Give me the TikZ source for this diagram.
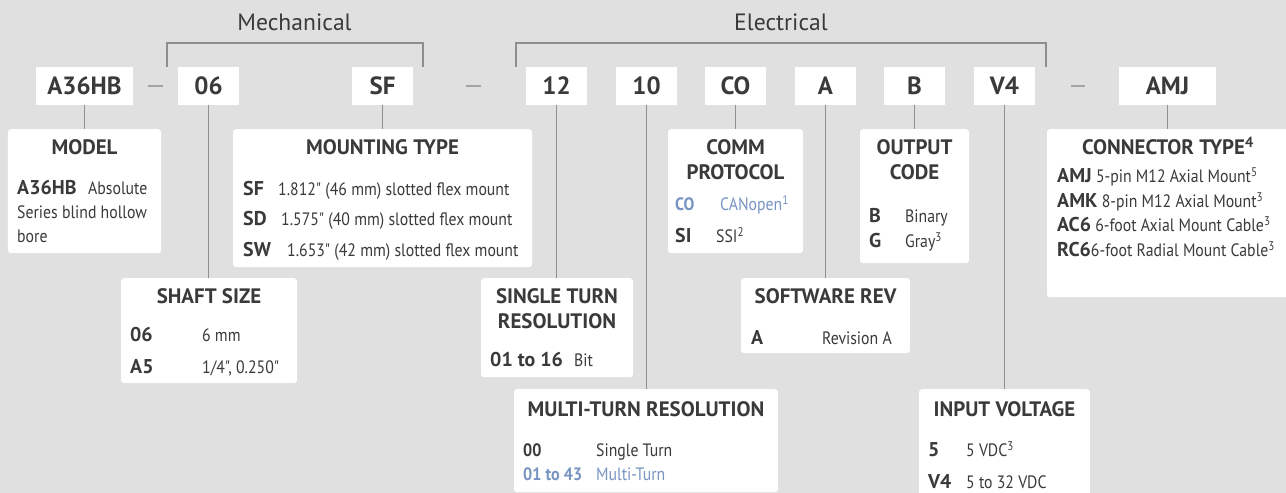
\documentclass[tikz,border=0pt]{standalone}
\usepackage{fontspec}
\setmainfont{PT Sans}
\newfontfamily\narrowfont{PT Sans}[FakeStretch=0.88]
\newfontfamily\boldfont{PT Sans}
\newfontfamily\boldnarrow{PT Sans}[FakeStretch=0.9]
\usepackage{xcolor}
\usepackage{tikz}
\usetikzlibrary{positioning}

\definecolor{bggray}{HTML}{DFE0DF}
\definecolor{txtgray}{HTML}{3A3A3A}
\definecolor{linegray}{HTML}{8E8E8E}
\definecolor{dashgray}{HTML}{A3A3A3}
\definecolor{optblue}{HTML}{7894C3}

\newcommand{\keytxt}[1]{{\boldfont\bfseries\fontsize{20}{24}\selectfont #1}}

\tikzset{
  codebox/.style={fill=white, minimum width=61bp, minimum height=38bp, inner sep=0pt,
    text=txtgray, font=\boldfont\bfseries\fontsize{25}{28}\selectfont},
  infobox/.style={fill=white, rounded corners=3bp, anchor=north, inner sep=0pt},
  boxtitle/.style={anchor=base, inner sep=0pt, text=txtgray,
    font=\boldfont\bfseries\fontsize{21}{25}\selectfont},
  key/.style={anchor=base west, inner sep=0pt, text=txtgray,
    font=\boldfont\bfseries\fontsize{20}{24}\selectfont},
  smallkey/.style={key, font=\boldnarrow\bfseries\fontsize{18}{24}\selectfont},
  val/.style={anchor=base west, inner sep=0pt, text=txtgray,
    font=\narrowfont\fontsize{18}{24}\selectfont},
  link/.style={draw=linegray, line width=1.8bp},
  bracket/.style={draw=linegray, line width=2bp},
  sepdash/.style={draw=dashgray, line width=1.5bp},
  group/.style={anchor=base, inner sep=0pt, text=txtgray, font=\fontsize{23.7}{28}\selectfont}
}

\begin{document}
\begin{tikzpicture}[x=1bp, y=-1bp]
  \fill[bggray] (0,0) rectangle (1286,493);
  \useasboundingbox (0,0) rectangle (1286,493);

  % groups
  \node[group] (mech) at (294.5,31) {Mechanical};
  \node[group] (elec) at (781,31) {Electrical};
  \draw[bracket] (167,67) |- (423,43) -- (423,67);
  \draw[bracket] (516,67) |- (1046,43) -- (1046,67);

  % part number
  \foreach \nm/\x/\w/\txt in {cModel/84.5/97/A36HB, cShaft/208.5/61/06, cMount/382.5/61/SF,
      cSingle/556.5/61/12, cMulti/646.5/61/10, cComm/735.5/61/CO, cSoft/825.5/61/A,
      cOut/914.5/61/B, cVolt/1004.5/61/V4, cConn/1167.5/97/AMJ} {
    \node[codebox, minimum width=\w bp] (\nm) at (\x,86) {\txt};
  }
  \draw[sepdash] (148,86) -- (163,86);
  \draw[sepdash] (466,86) -- (481,86);
  \draw[sepdash] (1071,86) -- (1085,86);

  % option boxes
  \node[infobox, minimum width=153bp, minimum height=124bp] (model) at (84.5,129) {};
  \node[infobox, minimum width=299bp, minimum height=138bp] (mount) at (382.5,129) {};
  \node[infobox, minimum width=135bp, minimum height=124bp] (comm) at (735.5,129) {};
  \node[infobox, minimum width=109bp, minimum height=134bp] (output) at (914.5,129) {};
  \node[infobox, minimum width=242bp, minimum height=168bp] (conn) at (1168,129) {};
  \node[infobox, minimum width=176bp, minimum height=105bp] (shaft) at (209,278) {};
  \node[infobox, minimum width=152bp, minimum height=99bp] (single) at (557,278) {};
  \node[infobox, minimum width=169bp, minimum height=75bp] (softw) at (825.5,278) {};
  \node[infobox, minimum width=264bp, minimum height=103bp] (multi) at (646,389) {};
  \node[infobox, minimum width=171bp, minimum height=111bp] (volt) at (1004.5,389) {};

  \foreach \a/\b in {cModel/model, cShaft/shaft, cMount/mount, cSingle/single, cMulti/multi,
      cComm/comm, cSoft/softw, cOut/output, cVolt/volt, cConn/conn} {
    \draw[link] (\a.south) -- (\a.south |- \b.north);
  }

  % titles
  \node[boxtitle] (tModel) at (84.5,155) {MODEL};
  \node[boxtitle] (tMount) at (382.5,155) {MOUNTING TYPE};
  \node[boxtitle] (tComm) at (735.5,155) {COMM};
  \node[boxtitle] (tComm2) at (735.5,180) {PROTOCOL};
  \node[boxtitle] (tOut) at (914.5,155) {OUTPUT};
  \node[boxtitle] (tOut2) at (914.5,180) {CODE};
  \node[boxtitle] (tConn) at (1168,155) {CONNECTOR TYPE\textsuperscript{4}};
  \node[boxtitle] (tShaft) at (209,303.6) {SHAFT SIZE};
  \node[boxtitle] (tSingle) at (557,303.6) {SINGLE TURN};
  \node[boxtitle] (tSingle2) at (557,328.6) {RESOLUTION};
  \node[boxtitle] (tSoft) at (825.5,303.6) {SOFTWARE REV};
  \node[boxtitle] (tMulti) at (646,416.6) {MULTI-TURN RESOLUTION};
  \node[boxtitle] (tVolt) at (1004.5,416.6) {INPUT VOLTAGE};

  % model
  \node[key] (kModel) at (17,194.4) {A36HB};
  \node[val] (vModel) at (88,194.4) {Absolute};
  \node[val] (vModel2) at (17,218.7) {Series blind hollow};
  \node[val] (vModel3) at (17,243) {bore};

  % mounting type
  \foreach \k/\xv/\v/\y [count=\i] in {SF/278/{1.812" (46 mm) slotted flex mount}/195.4,
      SD/281/{1.575" (40 mm) slotted flex mount}/225.4,
      SW/287/{1.653" (42 mm) slotted flex mount}/256.4} {
    \node[key] (kMount\i) at (243,\y) {\k};
    \node[val] (vMount\i) at (\xv,\y) {\v};
  }

  % comm protocol
  \node[smallkey, text=optblue] (kComm1) at (675,211) {CO};
  \node[val, text=optblue] (vComm1) at (720,211) {CANopen\textsuperscript{1}};
  \node[key] (kComm2) at (675,243) {SI};
  \node[val] (vComm2) at (716,243) {SSI\textsuperscript{2}};

  % output code
  \node[key] (kOut1) at (869,222.4) {B};
  \node[val] (vOut1) at (905,222.4) {Binary};
  \node[key] (kOut2) at (869,248) {G};
  \node[val] (vOut2) at (905,248) {Gray\textsuperscript{3}};

  % connector type
  \foreach \k/\v/\y [count=\i] in {AMJ/{ 5-pin M12 Axial Mount\textsuperscript{5}}/182.4,
      AMK/{ 8-pin M12 Axial Mount\textsuperscript{3}}/207.4,
      AC6/{ 6-foot Axial Mount Cable\textsuperscript{3}}/231.9,
      RC6/{6-foot Radial Mount Cable\textsuperscript{3}}/256.4} {
    \node[val] (vConn\i) at (1057,\y) {\keytxt{\k}\v};
  }

  % shaft size
  \node[key] (kShaft1) at (130,341.4) {06};
  \node[val] (vShaft1) at (202,341.4) {6 mm};
  \node[key] (kShaft2) at (130,373.4) {A5};
  \node[val] (vShaft2) at (202,373.4) {1/4", 0.250"};

  % single turn resolution
  \node[key] (kSingle) at (490,366.4) {01 to 16};
  \node[val] (vSingle) at (574,366.4) {Bit};

  % software rev
  \node[key] (kSoft) at (751,344.4) {A};
  \node[val] (vSoft) at (822,344.4) {Revision A};

  % multi-turn resolution
  \node[smallkey] (kMulti1) at (523,456.4) {00};
  \node[val] (vMulti1) at (596,456.4) {Single Turn};
  \node[smallkey, text=optblue] (kMulti2) at (523,480.4) {01 to 43};
  \node[val, text=optblue] (vMulti2) at (596,480.4) {Multi-Turn};

  % input voltage
  \node[key] (kVolt1) at (928,456.4) {5};
  \node[val] (vVolt1) at (966,456.4) {5 VDC\textsuperscript{3}};
  \node[key] (kVolt2) at (928,488.4) {V4};
  \node[val] (vVolt2) at (966,488.4) {5 to 32 VDC};
\end{tikzpicture}
\end{document}
